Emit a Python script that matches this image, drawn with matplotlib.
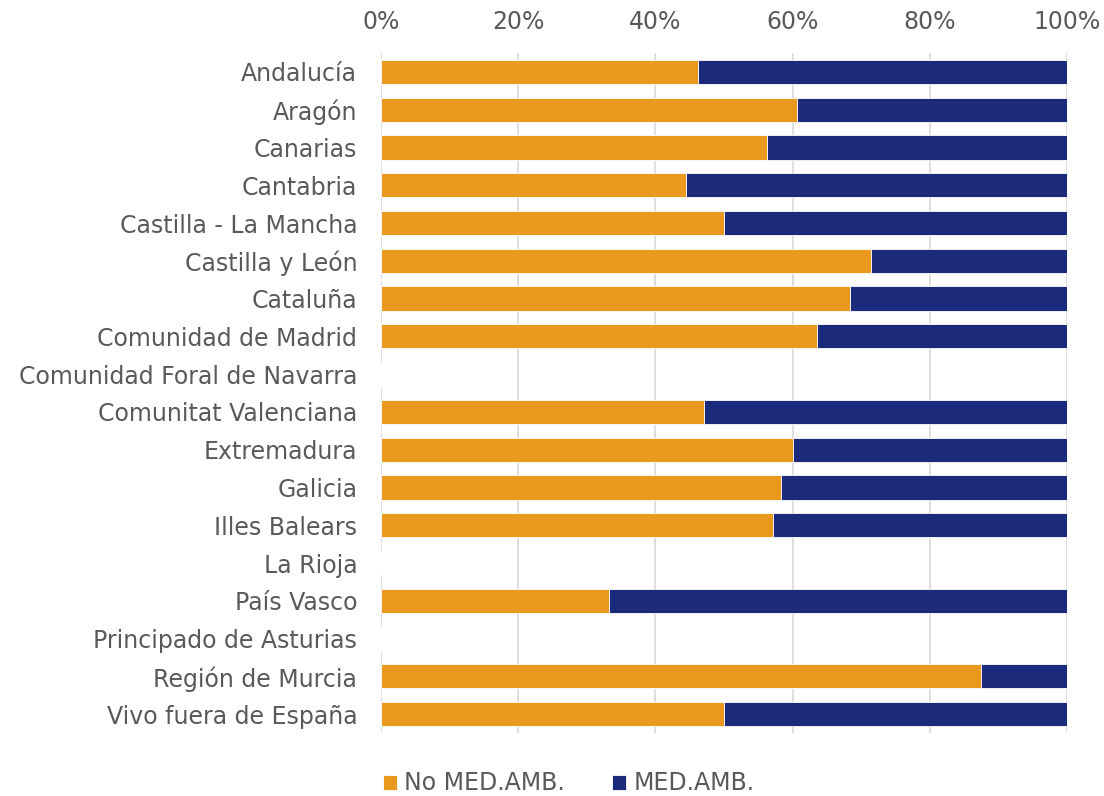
import matplotlib
matplotlib.use("Agg")
import matplotlib.pyplot as plt
from matplotlib.ticker import PercentFormatter

# Comunidades autónomas (de arriba a abajo)
regiones = [
    "Andalucía", "Aragón", "Canarias", "Cantabria", "Castilla - La Mancha",
    "Castilla y León", "Cataluña", "Comunidad de Madrid",
    "Comunidad Foral de Navarra", "Comunitat Valenciana", "Extremadura",
    "Galicia", "Illes Balears", "La Rioja", "País Vasco",
    "Principado de Asturias", "Región de Murcia", "Vivo fuera de España",
]
# porcentaje "No MED.AMB." (0 = sin respuestas)
no_med_amb = [46.2, 60.6, 56.3, 44.4, 50.0, 71.4, 68.4, 63.6, 0,
              47.1, 60.0, 58.3, 57.1, 0, 33.3, 0, 87.5, 50.0]
# porcentaje "MED.AMB."
med_amb = [53.8, 39.4, 43.7, 55.6, 50.0, 28.6, 31.6, 36.4, 0,
           52.9, 40.0, 41.7, 42.9, 0, 66.7, 0, 12.5, 50.0]
series = ["No MED.AMB.", "MED.AMB."]
colores = ["#E8991E", "#1B2A7B"]

gris = "#595959"
plt.rcParams["font.family"] = ["DejaVu Sans"]

fig = plt.figure(figsize=(11.04, 7.96), dpi=100)
ax = fig.add_axes([0.345, 0.0791, 0.6215, 0.8543])

y = list(range(len(regiones)))
ax.barh(y, no_med_amb, height=0.64, color=colores[0], edgecolor="white",
        linewidth=0.6, label=series[0], zorder=3)
ax.barh(y, med_amb, left=no_med_amb, height=0.64, color=colores[1],
        edgecolor="white", linewidth=0.6, label=series[1], zorder=3)

ax.set_xlim(0, 100)
ax.set_ylim(len(regiones) - 0.5, -0.5)
ax.set_yticks(y)
ax.set_yticklabels(regiones)
ax.set_xticks([0, 20, 40, 60, 80, 100])
ax.xaxis.set_major_formatter(PercentFormatter(decimals=0))
ax.xaxis.tick_top()
ax.tick_params(axis="both", length=0, labelsize=17, colors=gris)
ax.tick_params(axis="x", pad=14)
ax.tick_params(axis="y", pad=17)
ax.grid(axis="x", color="#D9D9D9", linewidth=1.2, zorder=0)
for s in ax.spines.values():
    s.set_visible(False)

fig.legend(loc="lower center", bbox_to_anchor=(0.515, -0.026), ncol=2,
           frameon=False, fontsize=17, labelcolor=gris,
           handlelength=0.6, handleheight=0.6, handletextpad=0.3,
           columnspacing=2.0)

fig.savefig("out.png", dpi=100)
